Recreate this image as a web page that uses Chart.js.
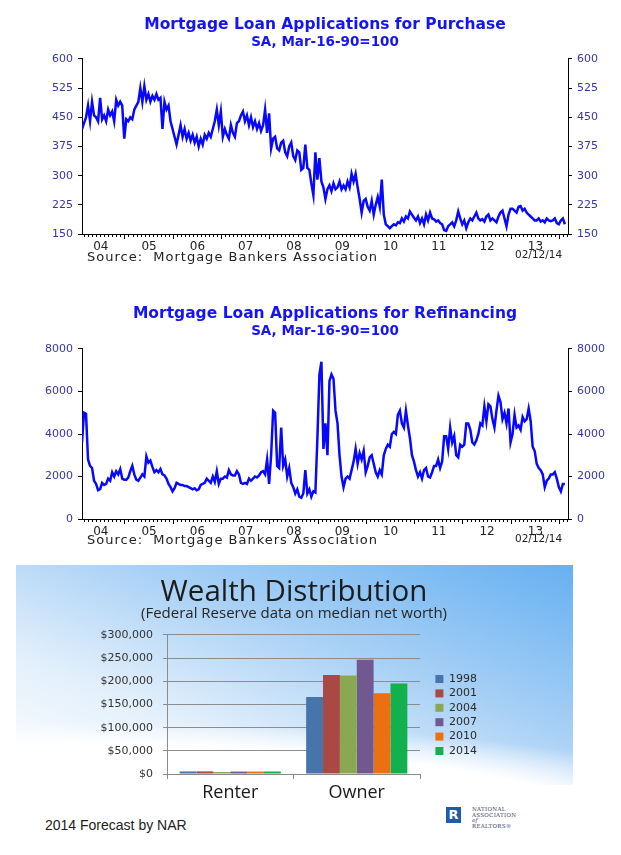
<!DOCTYPE html>
<html>
<head>
<meta charset="utf-8">
<title>Mortgage applications and wealth distribution</title>
<script src="https://cdn.jsdelivr.net/npm/chart.js"></script>
<style>
  html, body { margin: 0; padding: 0; background: #fff; }
  body { position: relative; width: 621px; height: 855px; overflow: hidden; font-family: "DejaVu Sans", sans-serif; }
  canvas, .note, #panel, #nar { position: absolute; }
  #purchaseChart { left: 0; top: 0; }
  #refiChart { left: 0; top: 290px; }
  #panel { left: 16px; top: 565px; width: 557px; height: 220px;
    background:
      radial-gradient(ellipse 900px 120px at 10% 112%, #ffffff 55%, rgba(255,255,255,0) 75%),
      linear-gradient(to bottom left, #66b0f1 0%, #a6cff5 38%, #e2effb 70%, #ffffff 100%); }
  #wealthChart { left: 16px; top: 566px; }
  .note { line-height: 1; white-space: nowrap; color: #222; }
  .source { left: 87px; font-size: 13px; letter-spacing: 1px; }
  .date { left: 515px; font-size: 10.5px; }
  #footer { left: 45px; top: 818px; font-family: "Liberation Sans", sans-serif; font-size: 14px; }
  #nar { left: 446px; top: 807px; height: 17px; }
  #nar .mark { position: absolute; left: 0; top: 0; width: 15px; height: 16px; background: #1f5ba8;
    color: #fff; font: bold 13px "DejaVu Sans", sans-serif; text-align: center; line-height: 16px; }
  #nar .words { position: absolute; left: 26px; top: 0; font: 5.5px/5.5px "DejaVu Serif", serif; color: #3a4560; letter-spacing: 0.3px; }
</style>
</head>
<body>
<canvas id="purchaseChart" width="621" height="262"></canvas>
<canvas id="refiChart" width="621" height="257"></canvas>
<div id="panel"></div>
<canvas id="wealthChart" width="556" height="240"></canvas>

<div class="note source" style="top:250px">Source:&nbsp; Mortgage Bankers Association</div>
<div class="note date" style="top:249px">02/12/14</div>
<div class="note source" style="top:533px">Source:&nbsp; Mortgage Bankers Association</div>
<div class="note date" style="top:533px">02/12/14</div>
<div class="note" id="footer">2014 Forecast by NAR</div>
<div id="nar"><div class="mark">R</div><div class="words">NATIONAL<br>ASSOCIATION <i>of</i><br>REALTORS®</div></div>

<script>
// x axis labels, one per year
const yearLabels = ['04', '05', '06', '07', '08', '09', '10', '11', '12', '13'];

// Purchase index, two readings a month from Feb 2004 to Feb 2014
const purchaseIndex = [
  // 2004 (Feb-Dec)
  420, 435, 450, 480, 440, 490, 455, 450, 440, 500, 445, 455, 440, 470, 455, 465, 440, 495, 480, 490, 480, 395,
  // 2005
  445, 440, 450, 445, 470, 480, 490, 525, 490, 530, 495, 510, 490, 505, 495, 510, 495, 500, 420, 490, 470, 480, 440, 420,
  // 2006
  400, 380, 405, 430, 400, 420, 395, 410, 390, 405, 385, 400, 375, 395, 380, 405, 395, 410, 400, 420, 440, 470, 430, 465,
  // 2007
  400, 420, 405, 395, 430, 410, 400, 435, 440, 455, 465, 440, 455, 430, 450, 425, 440, 420, 435, 415, 430, 470, 410, 460,
  // 2008
  370, 395, 400, 370, 365, 385, 390, 360, 350, 375, 385, 350, 340, 365, 360, 315, 320, 380, 320, 315, 280, 250, 360, 290,
  // 2009
  345, 285, 270, 240, 265, 275, 260, 280, 265, 270, 285, 265, 275, 265, 285, 270, 305, 285, 305, 270, 240, 205, 235, 240,
  // 2010
  220, 210, 235, 200, 225, 245, 220, 290, 200, 175, 170, 165, 170, 175, 172, 180, 178, 190, 182, 195, 190, 208, 200, 192,
  // 2011
  185, 195, 178, 190, 175, 200, 185, 205, 190, 188, 182, 185, 178, 175, 160, 158, 170, 175, 180, 170, 185, 208, 190, 175,
  // 2012
  185, 165, 180, 190, 185, 195, 205, 190, 185, 188, 182, 195, 200, 185, 190, 185, 180, 195, 205, 210, 190, 170, 200, 215,
  // 2013
  215, 210, 205, 220, 222, 210, 215, 205, 200, 195, 190, 185, 185, 190, 182, 185, 180, 190, 185, 183, 185, 190, 178, 175,
  // 2014 (Jan-Feb)
  185, 190, 175
];

// Refinancing index, same dates
const refiIndex = [
  // 2004 (Feb-Dec)
  3600, 5000, 4950, 2800, 2500, 2400, 1800, 1650, 1350, 1400, 1700, 1600, 1650, 1900, 1800, 2200, 2000, 2250, 2100, 2350, 1900, 1850,
  // 2005
  1850, 1950, 2250, 2500, 2100, 1850, 1800, 1950, 2100, 2000, 2950, 2650, 2750, 2450, 2200, 2300, 2200, 2350, 2100, 2050, 1900, 1650, 1500, 1300,
  // 2006
  1450, 1700, 1650, 1600, 1600, 1550, 1550, 1500, 1450, 1400, 1450, 1350, 1400, 1600, 1650, 1700, 1900, 1800, 1700, 2000, 1750, 2250, 1650, 1900,
  // 2007
  1900, 2000, 1950, 2300, 2100, 2050, 2050, 2250, 2100, 1700, 1650, 1700, 1650, 1900, 1800, 1900, 2000, 1950, 2050, 2200, 2250, 2100, 2800, 1650,
  // 2008
  3000, 5100, 5000, 2500, 2400, 4300, 2500, 2800, 2000, 2400, 1700, 1500, 1200, 1400, 1050, 1000, 1200, 2300, 1200, 1400, 1050, 1300, 1250, 3800,
  // 2009
  6800, 7400, 3300, 4500, 3000, 6500, 6800, 6600, 5100, 4500, 3000, 2000, 1500, 1900, 2000, 1900, 2300, 2700, 3300, 2600, 3100, 2800, 3200, 2200,
  // 2010
  2500, 2900, 3000, 2600, 2200, 2000, 2300, 2100, 3000, 3300, 3500, 3400, 4000, 4100, 4000, 4900, 5100, 4500, 4300, 5100, 4400, 3800, 3000, 2700,
  // 2011
  2300, 2000, 2200, 1900, 2300, 2400, 2000, 1950, 2200, 2500, 2500, 2800, 2400, 2700, 3900, 3900, 3300, 4300, 3600, 3900, 3000, 2900, 3500, 3400,
  // 2012
  3500, 4500, 4500, 4200, 3600, 3500, 3700, 4000, 4500, 4400, 5300, 4600, 5400, 5300, 4700, 4300, 5100, 5800, 5500, 4700, 5000, 4500, 5200, 3600,
  // 2013
  4000, 4900, 4300, 4400, 4200, 4800, 4600, 4700, 5200, 4600, 3400, 3200, 2600, 2400, 2300, 2100, 1500, 1800, 1900, 2100, 2100, 2200, 1900, 1500,
  // 2014 (Jan-Feb)
  1300, 1650, 1650
];

// Wealth distribution (median net worth)
const owners = ['Renter', 'Owner'];
const surveyYears = ['1998', '2001', '2004', '2007', '2010', '2014'];
const worth1998 = [5500, 166000];
const worth2001 = [5600, 213500];
const worth2004 = [4300, 212500];
const worth2007 = [5200, 246500];
const worth2010 = [5300, 174000];
const worth2014 = [5400, 195500];
const barColors = ['#4774aa', '#aa4844', '#8aa752', '#715891', '#ea7012', '#12b04f'];

Chart.defaults.font.family = '"DejaVu Sans", sans-serif';
Chart.defaults.animation = false;

// axis runs from early Feb 2004 to end of Feb 2014; readings every half month
const xMin = 2004.11, xMax = 2014.175;
const firstDate = xMin;

function monthOf(v) {
  return Math.round((v - Math.floor(v + 1e-6)) * 12) % 12;
}

function createLineChart(canvasId, titleText, values, yMin, yMax, yStep, titleTop, subTop, subBottom) {
  const points = values.map((v, i) => ({ x: firstDate + i / 24, y: v }));
  const yAxis = (pos, width) => ({
    position: pos,
    min: yMin, max: yMax,
    ticks: { stepSize: yStep, color: '#3636a6', font: { size: 11 }, padding: 5, callback: v => String(v) },
    grid: { drawOnChartArea: false, tickLength: 4, tickColor: '#000' },
    border: { color: '#000', width: 1 },
    afterFit: s => { s.width = width; }
  });
  new Chart(document.getElementById(canvasId), {
    type: 'line',
    data: {
      datasets: [{
        data: points,
        borderColor: '#0808ff',
        borderWidth: 2.5,
        pointRadius: 0,
        tension: 0,
        yAxisID: 'y'
      }]
    },
    options: {
      responsive: false,
      layout: { padding: { top: 0, bottom: 8, left: 0, right: 0 } },
      plugins: {
        legend: { display: false },
        tooltip: { enabled: false },
        title: {
          display: true, text: titleText, fullSize: false, color: '#1414f5',
          font: { size: 15.5, weight: 'bold' }, padding: { top: titleTop, bottom: 0 }
        },
        subtitle: {
          display: true, text: 'SA, Mar-16-90=100', fullSize: false, color: '#1414f5',
          font: { size: 13.5, weight: 'bold' }, padding: { top: subTop, bottom: subBottom }
        }
      },
      scales: {
        x: {
          type: 'linear',
          min: xMin, max: xMax,
          afterBuildTicks: scale => {
            const ticks = [];
            for (let y = 2004; y <= 2014; y++) {
              for (let m = 0; m < 12; m++) {
                const v = y + m / 12;
                if (v >= xMin && v <= xMax) ticks.push({ value: v });
              }
            }
            scale.ticks = ticks;
          },
          afterFit: s => { s.height = 20; },
          ticks: {
            autoSkip: false, maxRotation: 0, minRotation: 0,
            color: '#222', font: { size: 12 }, padding: 1,
            callback: v => monthOf(v) === 6 ? (yearLabels[Math.floor(v + 1e-6) - 2004] || '') : ''
          },
          grid: {
            drawOnChartArea: false, tickLength: 5, tickColor: '#000',
            tickBorderDash: ctx => (ctx.tick && monthOf(ctx.tick.value) === 0) ? [] : [2, 20]
          },
          border: { color: '#000', width: 1 }
        },
        y: yAxis('left', 82),
        y2: yAxis('right', 53)
      }
    }
  });
}

createLineChart('purchaseChart', 'Mortgage Loan Applications for Purchase', purchaseIndex, 150, 600, 75, 16, 0, 8.2);
createLineChart('refiChart', 'Mortgage Loan Applications for Refinancing', refiIndex, 0, 8000, 2000, 15, 0, 9.2);

// Wealth distribution bar chart
const worthSeries = [worth1998, worth2001, worth2004, worth2007, worth2010, worth2014];
// empty right-hand axes: one spaces the legend from the plot, the other
// sits outside the legend so the full-width titles centre over the plot
const spacerAxis = (width, weight) => ({
  position: 'right',
  weight: weight,
  grid: { display: false },
  border: { display: false },
  ticks: { display: false },
  afterFit: s => { s.width = width; }
});
new Chart(document.getElementById('wealthChart'), {
  type: 'bar',
  data: {
    labels: owners,
    datasets: surveyYears.map((yr, i) => ({
      label: yr,
      data: worthSeries[i],
      backgroundColor: barColors[i],
      borderWidth: 0,
      categoryPercentage: 0.8,
      barPercentage: 1.0,
      yAxisID: 'y'
    }))
  },
  options: {
    responsive: false,
    layout: { padding: { top: 0, bottom: 2, left: 0, right: 0 } },
    plugins: {
      tooltip: { enabled: false },
      title: {
        display: true, text: 'Wealth Distribution', color: '#1c1c1c',
        font: { family: '"Open Sans", sans-serif', size: 29.5, weight: 'normal', lineHeight: 0.9 },
        padding: { top: 13.7, bottom: 0 }
      },
      subtitle: {
        display: true, text: '(Federal Reserve data on median net worth)', color: '#262626',
        font: { family: '"Open Sans", sans-serif', size: 15, lineHeight: 1 },
        padding: { top: 0, bottom: 13.7 }
      },
      legend: {
        position: 'right',
        maxWidth: 50,
        title: { display: true, text: ' ', font: { size: 10 }, padding: 24 },
        labels: { boxWidth: 8, boxHeight: 8, padding: 3.4, color: '#2a2a2a', font: { size: 11 } }
      }
    },
    scales: {
      x: {
        ticks: { color: '#1a1a1a', font: { family: '"Open Sans", sans-serif', size: 18 }, padding: 3 },
        grid: { drawOnChartArea: false, tickLength: 5, color: '#8a8a8a' },
        border: { color: '#8a8a8a' },
        afterFit: s => { s.height = 30; }
      },
      y: {
        min: 0, max: 300000,
        ticks: {
          stepSize: 50000, color: '#333', font: { size: 11 }, padding: 10,
          callback: v => '$' + v.toLocaleString('en-US')
        },
        grid: { color: '#8c8c8c', lineWidth: 1, tickLength: 4 },
        border: { color: '#8c8c8c' },
        afterFit: s => { s.width = 151; }
      },
      yPad: spacerAxis(12, 0),
      yOuter: spacerAxis(90, 2000)
    }
  }
});
</script>
</body>
</html>
